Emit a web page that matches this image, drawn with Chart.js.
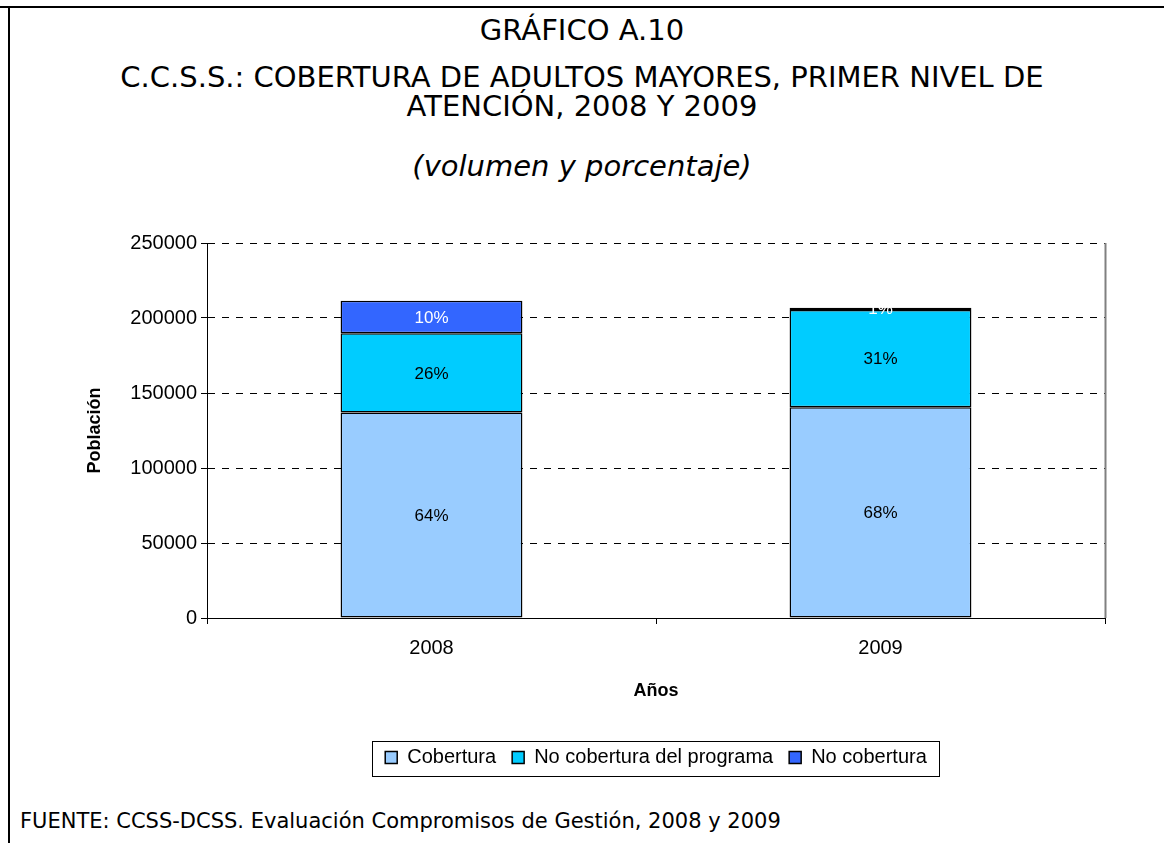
<!DOCTYPE html>
<html>
<head>
<meta charset="utf-8">
<script src="https://cdn.jsdelivr.net/npm/chart.js@4"></script>
<style>
  html, body { margin: 0; padding: 0; background: #fff; }
  body { width: 1164px; height: 843px; position: relative; overflow: hidden; }
  .frame-top { position: absolute; left: 0; top: 6px; width: 1164px; height: 2px; background: #000; }
  .frame-left { position: absolute; left: 8px; top: 6px; width: 2px; height: 837px; background: #000; }
  .title { position: absolute; left: 0; width: 1164px; text-align: center; font-family: "DejaVu Sans", Verdana, sans-serif; color: #000; }
  #t1 { top: 12px; font-size: 29px; line-height: 36px; }
  #t2 { top: 63px; font-size: 29px; line-height: 29px; }
  #t3 { top: 148px; font-size: 29px; line-height: 36px; font-style: italic; }
  #fuente { position: absolute; left: 20px; top: 807px; font-family: "DejaVu Sans", Verdana, sans-serif; font-size: 21px; line-height: 28px; }
  #wrap { position: absolute; left: 0; top: 200px; width: 1164px; height: 600px; }
</style>
</head>
<body>
<div class="frame-top"></div>
<div class="frame-left"></div>
<div class="title" id="t1">GRÁFICO A.10</div>
<div class="title" id="t2">C.C.S.S.: COBERTURA DE ADULTOS MAYORES, PRIMER NIVEL DE<br>ATENCIÓN, 2008 Y 2009</div>
<div class="title" id="t3">(volumen y porcentaje)</div>
<div id="wrap"><canvas id="chart"></canvas></div>
<div id="fuente">FUENTE: CCSS-DCSS. Evaluación Compromisos de Gestión, 2008 y 2009</div>

<script>
// datos
const years = ['2008', '2009'];
const cobertura = [137000, 140500];
const noCobPrograma = [52800, 64900];
const noCobertura = [21700, 1500];
// porcentajes tal como aparecen en las etiquetas
const pctCobertura = ['64%', '68%'];
const pctNoCobPrograma = ['26%', '31%'];
const pctNoCobertura = ['10%', '1%'];
const yTicks = [0, 50000, 100000, 150000, 200000, 250000];

const colors = {
    cobertura: '#99CCFF',
    programa: '#00CCFF',
    noCob: '#3366FF'
};

const pctLabels = [pctCobertura, pctNoCobPrograma, pctNoCobertura];
const pctColors = ['#000', '#000', '#fff'];

const font = "'Liberation Sans', Arial, sans-serif";

// etiquetas de porcentaje dentro de cada segmento
const segmentLabels = {
    id: 'segmentLabels',
    afterDatasetsDraw(chart) {
        const ctx = chart.ctx;
        ctx.save();
        ctx.font = '17px ' + font;
        ctx.textAlign = 'center';
        ctx.textBaseline = 'middle';
        chart.data.datasets.forEach((ds, i) => {
            chart.getDatasetMeta(i).data.forEach((bar, j) => {
                ctx.fillStyle = pctColors[i];
                ctx.fillText(pctLabels[i][j], bar.x, (bar.y + bar.base) / 2 + 1);
            });
        });
        ctx.restore();
    }
};

// borde derecho del area de trazado y recuadro de la leyenda
const extras = {
    id: 'extras',
    afterDraw(chart) {
        const ctx = chart.ctx;
        const a = chart.chartArea;
        ctx.save();
        ctx.strokeStyle = '#808080';
        ctx.lineWidth = 2;
        ctx.beginPath();
        ctx.moveTo(a.right + 0.5, a.top);
        ctx.lineTo(a.right + 0.5, a.bottom);
        ctx.stroke();

        const boxes = chart.legend.legendHitBoxes;
        if (boxes && boxes.length) {
            const l = Math.min(...boxes.map(b => b.left)) - 13;
            const r = Math.max(...boxes.map(b => b.left + b.width)) + 12;
            const t = Math.min(...boxes.map(b => b.top)) - 7;
            const b = Math.max(...boxes.map(b => b.top + b.height)) + 8;
            ctx.strokeStyle = '#000';
            ctx.lineWidth = 1;
            ctx.strokeRect(Math.round(l) + 0.5, Math.round(t) + 0.5, Math.round(r - l), Math.round(b - t));
        }
        ctx.restore();
    }
};

function makeDataset(label, data, color) {
    return {
        label,
        data,
        backgroundColor: color,
        borderColor: '#000',
        borderWidth: 1.5,
        borderSkipped: false,
        categoryPercentage: 1,
        barPercentage: 0.405
    };
}

new Chart(document.getElementById('chart'), {
    type: 'bar',
    data: {
        labels: years,
        datasets: [
            makeDataset('Cobertura', cobertura, colors.cobertura),
            makeDataset('No cobertura del programa', noCobPrograma, colors.programa),
            makeDataset('No cobertura', noCobertura, colors.noCob)
        ]
    },
    options: {
        responsive: true,
        maintainAspectRatio: false,
        animation: false,
        layout: { padding: { left: 70, right: 59, top: 43, bottom: 22.5 } },
        scales: {
            x: {
                stacked: true,
                offset: true,
                grid: { offset: true, drawOnChartArea: false, color: '#000', tickLength: 6 },
                border: { color: '#000', width: 1 },
                ticks: { color: '#000', font: { family: font, size: 20 }, padding: 12 },
                title: { display: true, text: 'Años', color: '#000', font: { family: font, size: 18, weight: 'bold' }, padding: { top: 0, bottom: 30 } },
                afterFit(scale) { scale.height = 113.5; }
            },
            y: {
                stacked: true,
                min: 0,
                max: 250000,
                afterBuildTicks(scale) { scale.ticks = yTicks.map(v => ({ value: v })); },
                grid: { color: '#000', tickLength: 6 },
                border: { color: '#000', width: 1, dash: [7, 7] },
                ticks: { color: '#000', font: { family: font, size: 20 }, padding: 4, callback: v => String(v) },
                title: { display: true, text: 'Población', color: '#000', font: { family: font, size: 18, weight: 'bold' }, padding: { top: 14, bottom: 0 } },
                afterFit(scale) { scale.width = 137; }
            }
        },
        plugins: {
            legend: {
                position: 'bottom',
                fullSize: false,
                labels: {
                    color: '#000',
                    font: { family: font, size: 20 },
                    boxWidth: 12,
                    boxHeight: 12,
                    padding: 16
                }
            },
            tooltip: { enabled: false }
        }
    },
    plugins: [segmentLabels, extras]
});
</script>
</body>
</html>
